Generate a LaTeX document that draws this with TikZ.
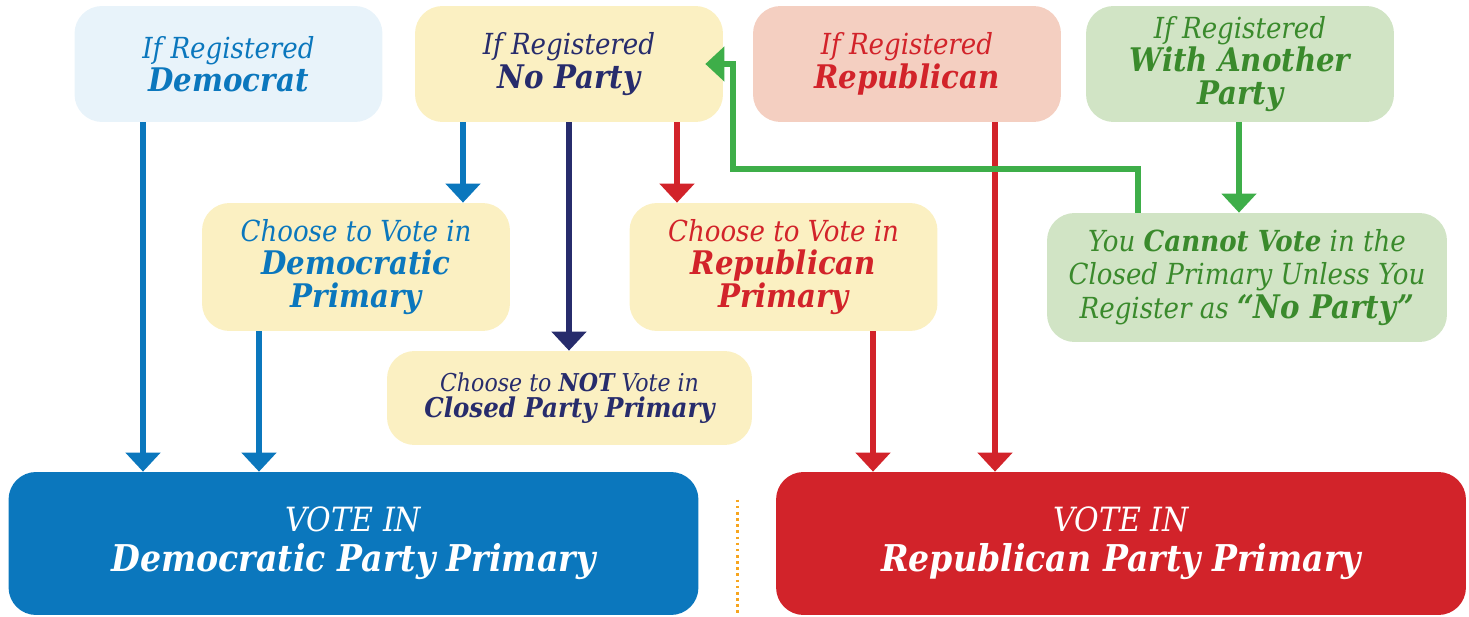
\documentclass[tikz,border=0pt]{standalone}
\usepackage{fontspec}
\setmainfont{DejaVu Serif Condensed}
\usetikzlibrary{arrows.meta,calc}
\definecolor{demblue}{HTML}{0B77BD}
\definecolor{navy}{HTML}{272C6C}
\definecolor{repred}{HTML}{D2232A}
\definecolor{argreen}{HTML}{3EAE49}
\definecolor{txgreen}{HTML}{3A8A2C}
\definecolor{fillblue}{HTML}{E8F3FA}
\definecolor{fillyellow}{HTML}{FBF0C2}
\definecolor{fillpink}{HTML}{F4CFC1}
\definecolor{fillgreen}{HTML}{D1E4C5}
\definecolor{dotorange}{HTML}{F7A51E}
\newcommand{\boldit}[1]{{\fontsize{18.5}{19}\selectfont\bfseries #1}}
\tikzset{
  box/.style={rounded corners=0.55cm, align=center, inner sep=0pt,
    font=\fontsize{16.5}{19}\selectfont\itshape},
  topbox/.style={box, minimum width=6.16cm, minimum height=2.32cm},
  midbox/.style={box, fill=fillyellow, minimum width=6.16cm, minimum height=2.56cm},
  votebox/.style={box, text=white, minimum width=13.8cm, minimum height=2.86cm,
    font=\fontsize{19}{23}\selectfont\itshape},
  arr/.style={line width=0.12cm, -{Triangle[width=0.68cm,length=0.38cm]}},
}
\begin{document}
\begin{tikzpicture}[x=0.02cm,y=-0.02cm]
\useasboundingbox (0,0) rectangle (1469,617);
% registration boxes
\node[topbox, fill=fillblue, text=demblue] (dem) at (228.5,64) {If Registered\\\boldit{Democrat}};
\node[topbox, fill=fillyellow, text=navy] (np) at (569,64) {If Registered\\\boldit{No Party}};
\node[topbox, fill=fillpink, text=repred] (rep) at (907,64) {If Registered\\\boldit{Republican}};
\node[topbox, fill=fillgreen, text=txgreen] (oth) at (1240,64) {If Registered\\\boldit{With Another}\\\boldit{Party}};
% choices
\node[midbox, text=demblue] (chdem) at (356,267) {Choose to Vote in\\\boldit{Democratic}\\\boldit{Primary}};
\node[midbox, text=repred] (chrep) at (783.5,267) {Choose to Vote in\\\boldit{Republican}\\\boldit{Primary}};
\node[box, fill=fillgreen, text=txgreen, minimum width=8cm, minimum height=2.58cm] (cannot) at (1247,277.5)
  {You \textbf{Cannot Vote} in the\\Closed Primary Unless You\\Register as \boldit{“No Party”}};
\node[box, fill=fillyellow, text=navy, minimum width=7.3cm, minimum height=1.88cm,
  font=\fontsize{14}{15}\selectfont\itshape] (notv) at (569.5,398)
  {Choose to \textbf{NOT} Vote in\\{\fontsize{15.5}{15}\selectfont\bfseries Closed Party Primary}};
% result boxes
\node[votebox, fill=demblue] (votedem) at (353.5,543.5) {VOTE IN\\{\fontsize{21}{23}\selectfont\bfseries Democratic Party Primary}};
\node[votebox, fill=repred] (voterep) at (1121,543.5) {VOTE IN\\{\fontsize{21}{23}\selectfont\bfseries Republican Party Primary}};
\draw[dotorange, line width=1.5pt, dotted]
  ($(votedem.north east)!0.5!(voterep.north west)+(0,28)$) -- ($(votedem.south east)!0.5!(voterep.south west)$);
% down arrows
\foreach \a/\b/\dx/\c in {dem/votedem/-85.5/demblue, chdem/votedem/-97/demblue, np/chdem/-106/demblue,
    np/notv/0/navy, np/chrep/108/repred, chrep/voterep/89.5/repred, rep/voterep/88/repred, oth/cannot/-1/argreen}{
  \coordinate (s) at ($(\a.south)+(\dx,0)$);
  \draw[arr,\c] (s) -- (s |- \b.north);
}
% back to no party
\coordinate (g0) at ($(cannot.north)+(-109,0)$);
\coordinate (gturn) at (733,169);
\draw[arr, argreen, shorten >=-0.36cm] (g0) |- (gturn) |- (np.east);
\end{tikzpicture}
\end{document}
